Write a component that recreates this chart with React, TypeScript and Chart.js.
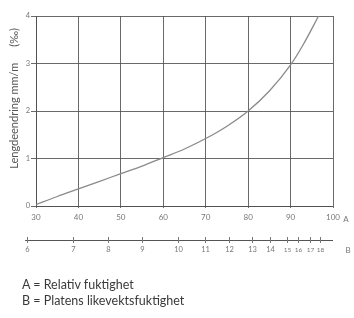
import React, { useEffect, useRef } from "react";
import { Chart, registerables } from "chart.js";
Chart.register(...registerables);

// A = relative humidity (%), curve = length change (mm/m, ‰)
const humidityA = [30, 35, 40, 45, 50, 55, 60, 65, 70, 75, 80, 85, 90, 93, 96.6];
const lengthChange = [0.03, 0.2, 0.36, 0.52, 0.68, 0.84, 1.02, 1.2, 1.42, 1.68, 2.0, 2.42, 2.97, 3.4, 4.0];
const aTickValues = [30, 40, 50, 60, 70, 80, 90, 100];
const yTickValues = [0, 1, 2, 3, 4];
// B = board equilibrium moisture (%), and the A-value where each B tick sits
const bMoisture = [6, 7, 8, 9, 10, 11, 12, 13, 14, 15, 16, 17, 18];
const bAtHumidity = [27.9, 38.7, 47, 55, 63.5, 69.9, 75.5, 80.9, 85.2, 89.1, 91.8, 94.6, 97];

const yTitleMain = "Lengdeendring mm/m";
const yTitleUnit = "(‰)";
const legendLines = ["A = Relativ fuktighet", "B = Platens likevektsfuktighet"];

const W = 354;
const H = 318;
const GRID = "rgba(80,80,80,0.85)";
const TXT = "#777";
const FONT = "Lato, 'Open Sans', sans-serif";

const bAxisPlugin = {
  id: "bAxis",
  afterDraw(chart: any) {
    const ctx = chart.ctx;
    const xs = chart.scales.x;
    const ys = chart.scales.y;
    const lineY = 240;
    ctx.save();
    // y-axis title
    ctx.save();
    ctx.translate(14, 0);
    ctx.rotate(-Math.PI / 2);
    ctx.fillStyle = "#555";
    ctx.textAlign = "center";
    ctx.textBaseline = "middle";
    ctx.font = `11px ${FONT}`;
    ctx.fillText(yTitleMain, -ys.getPixelForValue(1.9), 0);
    ctx.fillText(yTitleUnit, -ys.getPixelForValue(3.55), 0);
    ctx.restore();
    // "A" label for the top axis
    ctx.fillStyle = TXT;
    ctx.font = `8px ${FONT}`;
    ctx.textAlign = "center";
    ctx.textBaseline = "middle";
    ctx.fillText("A", xs.right + 13, 219);
    // B axis
    const x0 = xs.getPixelForValue(bAtHumidity[0]) - 2;
    const x1 = xs.getPixelForValue(100);
    ctx.strokeStyle = "#555";
    ctx.lineWidth = 1;
    ctx.beginPath();
    ctx.moveTo(x0, lineY + 0.5);
    ctx.lineTo(x1, lineY + 0.5);
    ctx.stroke();
    ctx.strokeStyle = "#777";
    bMoisture.forEach((b, i) => {
      const px = Math.round(xs.getPixelForValue(bAtHumidity[i])) + 0.5;
      ctx.beginPath();
      ctx.moveTo(px, lineY - 3);
      ctx.lineTo(px, lineY + 3);
      ctx.stroke();
      ctx.font = `${b >= 15 ? 6.5 : 7.5}px ${FONT}`;
      ctx.fillText(String(b), px, lineY + 10);
    });
    ctx.font = `8px ${FONT}`;
    ctx.fillText("B", 348, lineY + 10);
    ctx.restore();
  },
};

export default function App() {
  const ref = useRef<HTMLCanvasElement | null>(null);
  useEffect(() => {
    if (!ref.current) return;
    const chart = new Chart(ref.current, {
      type: "line",
      data: {
        datasets: [
          {
            data: humidityA.map((x, i) => ({ x, y: lengthChange[i] })),
            borderColor: "#8a8a8a",
            borderWidth: 1.3,
            pointRadius: 0,
            cubicInterpolationMode: "monotone",
            fill: false,
          },
        ],
      },
      options: {
        animation: false,
        responsive: false,
        devicePixelRatio: 1,
        layout: { padding: { left: 0, right: 21, top: 16, bottom: 92 } },
        plugins: { legend: { display: false }, tooltip: { enabled: false } },
        scales: {
          x: {
            type: "linear",
            min: 30,
            max: 100,
            afterBuildTicks: (s: any) => {
              s.ticks = aTickValues.map((v) => ({ value: v }));
            },
            afterFit: (s: any) => {
              s.height = 20;
            },
            ticks: { color: TXT, font: { size: 8, family: FONT }, padding: 5, maxRotation: 0 },
            grid: { color: GRID, lineWidth: 1, tickLength: 2 },
            border: { color: GRID },
          },
          y: {
            min: 0,
            max: 4,
            afterBuildTicks: (s: any) => {
              s.ticks = yTickValues.map((v) => ({ value: v }));
            },
            afterFit: (s: any) => {
              s.width = 36;
            },
            ticks: { color: TXT, font: { size: 7.5, family: FONT }, padding: 1 },
            grid: { color: GRID, lineWidth: 1, tickLength: 5 },
            border: { color: GRID },
          },
        },
      },
      plugins: [bAxisPlugin],
    } as any);
    return () => chart.destroy();
  }, []);

  return (
    <div style={{ position: "absolute", left: 0, top: 0, width: W, height: H, background: "#fff" }}>
      <canvas ref={ref} width={W} height={H} style={{ display: "block", width: W, height: H }} />
      {legendLines.map((t, i) => (
        <div
          key={t}
          style={{
            position: "absolute",
            left: 22,
            top: 277 + i * 16,
            fontFamily: FONT,
            fontSize: 12.5,
            lineHeight: "16px",
            color: "#3a3a3a",
            whiteSpace: "nowrap",
          }}
        >
          {t}
        </div>
      ))}
    </div>
  );
}
